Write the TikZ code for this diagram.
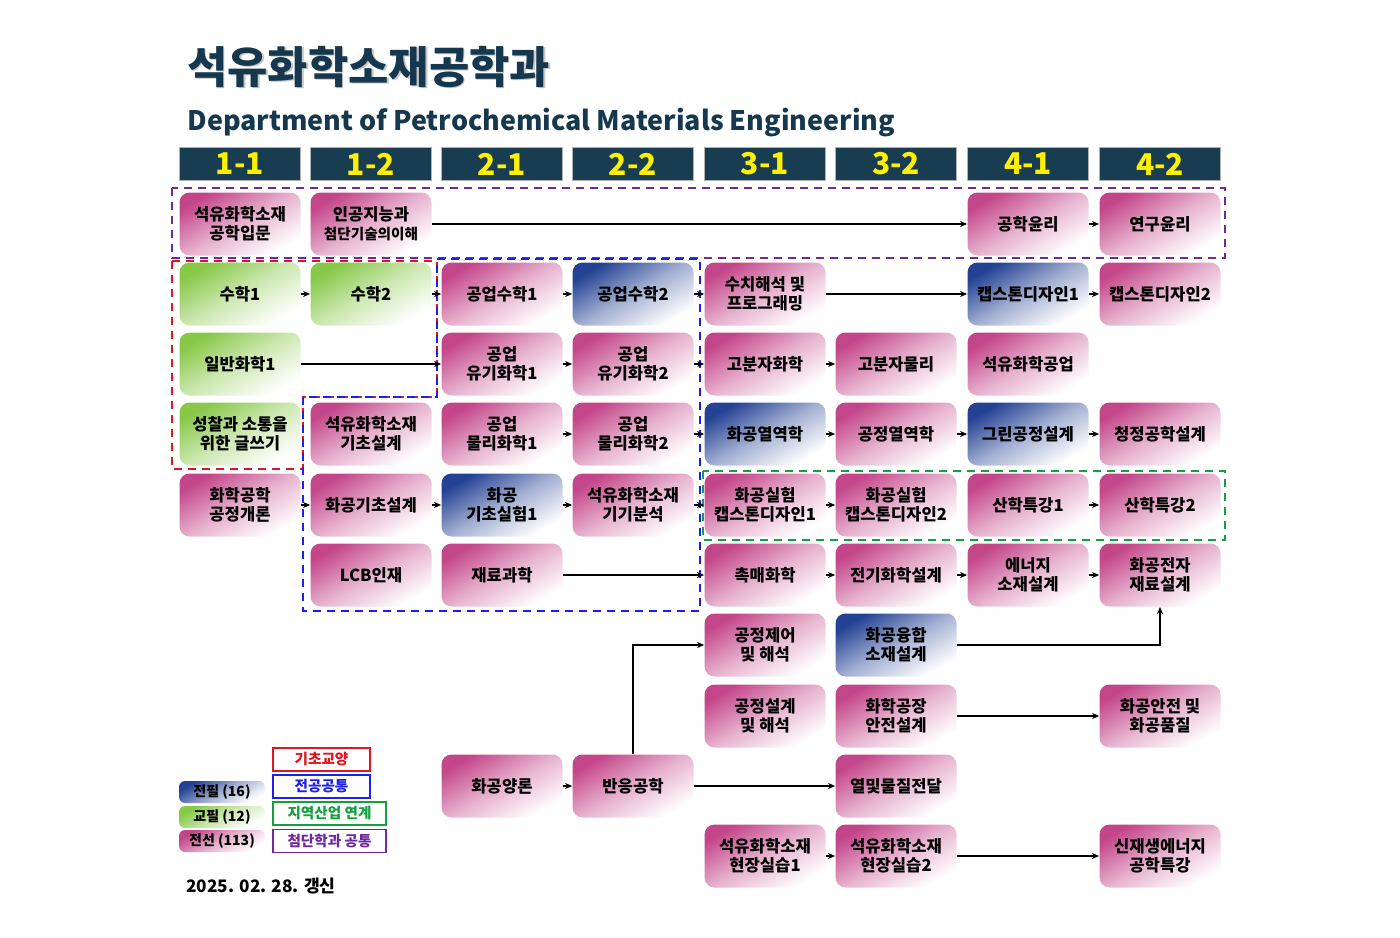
\documentclass[tikz,border=0pt]{standalone}
\usepackage{fontspec}
\setmainfont{Noto Sans CJK KR}
\usetikzlibrary{arrows.meta,positioning}

\definecolor{navy}{RGB}{22,56,78}
\definecolor{hdrfill}{RGB}{24,60,80}
\definecolor{hdrtext}{RGB}{255,240,0}
\definecolor{pinkc}{RGB}{196,70,138}
\definecolor{greenc}{RGB}{136,200,72}
\definecolor{bluec}{RGB}{36,66,148}
\definecolor{zonered}{RGB}{226,20,30}
\definecolor{zoneblue}{RGB}{30,30,240}
\definecolor{zonegreen}{RGB}{20,160,60}
\definecolor{zonepurple}{RGB}{112,40,160}

\tikzset{
  course/.style={rounded corners=5pt, minimum width=60.5pt, minimum height=31.5pt,
    inner sep=1pt, align=center, font=\bfseries\fontsize{8.3}{9.6}\selectfont},
  pinkbox/.style={course, top color=pinkc, bottom color=white, middle color=pinkc!42!white, shading angle=30},
  greenbox/.style={course, top color=greenc, bottom color=white, middle color=greenc!42!white, shading angle=30},
  bluebox/.style={course, top color=bluec, bottom color=white, middle color=bluec!42!white, shading angle=30},
  hdr/.style={fill=hdrfill, draw=gray!60, line width=0.4pt, minimum width=60.5pt,
    minimum height=16.5pt, inner sep=0pt, text=hdrtext, font=\bfseries\fontsize{15}{15}\selectfont},
  arr/.style={-{Stealth[length=3.5pt,width=3pt]}, line width=0.75pt},
  zone/.style={dash pattern=on 4pt off 3pt, line width=1pt},
  legbox/.style={minimum width=43pt, minimum height=11pt, rounded corners=3pt},
  keybox/.style={draw, line width=0.8pt, fill=white, minimum height=11.5pt, inner sep=0pt,
    font=\bfseries\fontsize{7.3}{8}\selectfont}
}

\begin{document}
\begin{tikzpicture}[x=0.5pt,y=-0.5pt]
    \useasboundingbox (0,0) rectangle (1400,937);

    % Title
    \node[anchor=west, text=gray!45, font=\bfseries\fontsize{21.9}{22}\selectfont, inner sep=0pt] at (188.5,68.5) {석유화학소재공학과};
    \node[anchor=west, text=navy, font=\bfseries\fontsize{21.9}{22}\selectfont, inner sep=0pt] (title) at (187,67) {석유화학소재공학과};
    \node[anchor=base west, text=navy, font=\bfseries\fontsize{13.45}{14}\selectfont, inner sep=0pt] (subtitle) at (187,130) {Department of Petrochemical Materials Engineering};

    % Semester headers
    \node[hdr] (s11) at (240,164) {1-1};
    \node[hdr] (s12) at (371,164) {1-2};
    \node[hdr] (s21) at (502,164) {2-1};
    \node[hdr] (s22) at (633,164) {2-2};
    \node[hdr] (s31) at (765,164) {3-1};
    \node[hdr] (s32) at (896,164) {3-2};
    \node[hdr] (s41) at (1028,164) {4-1};
    \node[hdr] (s42) at (1160,164) {4-2};

    % Zones
    \draw[zone, zonepurple] (172,188) rectangle (1225,258);
    \draw[zone, zonered] (172,261) -- (437,261) -- (437,397) -- (303,397) -- (303,469) -- (172,469) -- cycle;
    \draw[zone, zoneblue] (437,259) -- (700,259) -- (700,611) -- (303,611) -- (303,397) -- (437,397) -- cycle;
    \draw[zone, zonegreen] (703,471) rectangle (1225,540);

    % Courses
    \node[pinkbox] (intro) at (240,224) {석유화학소재\\공학입문};
    \node[pinkbox] (ai) at (371,224) {인공지능과\\{\fontsize{7.3}{9.6}\selectfont 첨단기술의이해}};
    \node[pinkbox] (ethics) at (1028,224) {공학윤리};
    \node[pinkbox] (resethics) at (1160,224) {연구윤리};

    \node[greenbox] (math1) at (240,294) {수학1};
    \node[greenbox] (math2) at (371,294) {수학2};
    \node[pinkbox] (emath1) at (502,294) {공업수학1};
    \node[bluebox] (emath2) at (633,294) {공업수학2};
    \node[pinkbox] (numer) at (765,294) {수치해석 및\\프로그래밍};
    \node[bluebox] (cap1) at (1028,294) {캡스톤디자인1};
    \node[pinkbox] (cap2) at (1160,294) {캡스톤디자인2};

    \node[greenbox] (chem1) at (240,364) {일반화학1};
    \node[pinkbox] (org1) at (502,364) {공업\\유기화학1};
    \node[pinkbox] (org2) at (633,364) {공업\\유기화학2};
    \node[pinkbox] (poly) at (765,364) {고분자화학};
    \node[pinkbox] (polyphys) at (896,364) {고분자물리};
    \node[pinkbox] (petind) at (1028,364) {석유화학공업};

    \node[greenbox] (writing) at (240,434) {성찰과 소통을\\위한 글쓰기};
    \node[pinkbox] (basedes) at (371,434) {석유화학소재\\기초설계};
    \node[pinkbox] (phys1) at (502,434) {공업\\물리화학1};
    \node[pinkbox] (phys2) at (633,434) {공업\\물리화학2};
    \node[bluebox] (thermo) at (765,434) {화공열역학};
    \node[pinkbox] (pthermo) at (896,434) {공정열역학};
    \node[bluebox] (greenproc) at (1028,434) {그린공정설계};
    \node[pinkbox] (clean) at (1160,434) {청정공학설계};

    \node[pinkbox] (ceintro) at (240,505) {화학공학\\공정개론};
    \node[pinkbox] (cebasic) at (371,505) {화공기초설계};
    \node[bluebox] (lab1) at (502,505) {화공\\기초실험1};
    \node[pinkbox] (instr) at (633,505) {석유화학소재\\기기분석};
    \node[pinkbox] (labcap1) at (765,505) {화공실험\\캡스톤디자인1};
    \node[pinkbox] (labcap2) at (896,505) {화공실험\\캡스톤디자인2};
    \node[pinkbox] (ind1) at (1028,505) {산학특강1};
    \node[pinkbox] (ind2) at (1160,505) {산학특강2};

    \node[pinkbox] (lcb) at (371,575) {LCB인재};
    \node[pinkbox] (matsci) at (502,575) {재료과학};
    \node[pinkbox] (catal) at (765,575) {촉매화학};
    \node[pinkbox] (elchem) at (896,575) {전기화학설계};
    \node[pinkbox] (energy) at (1028,575) {에너지\\소재설계};
    \node[pinkbox] (elecmat) at (1160,575) {화공전자\\재료설계};

    \node[pinkbox] (control) at (765,645) {공정제어\\및 해석};
    \node[bluebox] (fusion) at (896,645) {화공융합\\소재설계};

    \node[pinkbox] (procdes) at (765,716) {공정설계\\및 해석};
    \node[pinkbox] (plantsafe) at (896,716) {화학공장\\안전설계};
    \node[pinkbox] (quality) at (1160,716) {화공안전 및\\화공품질};

    \node[pinkbox] (stoich) at (502,786) {화공양론};
    \node[pinkbox] (react) at (633,786) {반응공학};
    \node[pinkbox] (heat) at (896,786) {열및물질전달};

    \node[pinkbox] (field1) at (765,856) {석유화학소재\\현장실습1};
    \node[pinkbox] (field2) at (896,856) {석유화학소재\\현장실습2};
    \node[pinkbox] (renew) at (1160,856) {신재생에너지\\공학특강};

    % Prerequisite arrows
    \draw[arr] (ai) -- (ethics);
    \draw[arr] (ethics) -- (resethics);
    \draw[arr] (math1) -- (math2);
    \draw[arr] (math2) -- (emath1);
    \draw[arr] (emath1) -- (emath2);
    \draw[arr] (emath2) -- (numer);
    \draw[arr] (numer) -- (cap1);
    \draw[arr] (cap1) -- (cap2);
    \draw[arr] (chem1) -- (org1);
    \draw[arr] (org1) -- (org2);
    \draw[arr] (org2) -- (poly);
    \draw[arr] (poly) -- (polyphys);
    \draw[arr] (phys1) -- (phys2);
    \draw[arr] (phys2) -- (thermo);
    \draw[arr] (thermo) -- (pthermo);
    \draw[arr] (pthermo) -- (greenproc);
    \draw[arr] (greenproc) -- (clean);
    \draw[arr] (ceintro) -- (cebasic);
    \draw[arr] (cebasic) -- (lab1);
    \draw[arr] (lab1) -- (instr);
    \draw[arr] (instr) -- (labcap1);
    \draw[arr] (labcap1) -- (labcap2);
    \draw[arr] (ind1) -- (ind2);
    \draw[arr] (matsci) -- (catal);
    \draw[arr] (catal) -- (elchem);
    \draw[arr] (elchem) -- (energy);
    \draw[arr] (energy) -- (elecmat);
    \draw[arr] (fusion.east) -| (elecmat.south);
    \draw[arr] (plantsafe) -- (quality);
    \draw[arr] (stoich) -- (react);
    \draw[arr] (react) -- (heat);
    \draw[arr] (react.north) |- (control.west);
    \draw[arr] (field1) -- (field2);
    \draw[arr] (field2) -- (renew);

    % Legend
    \node[bluebox, legbox, font=\bfseries\fontsize{7}{8}\selectfont] (lmajreq) at (222,792) {전필 (16)};
    \node[greenbox, legbox, font=\bfseries\fontsize{7}{8}\selectfont] (lgenreq) at (222,817) {교필 (12)};
    \node[pinkbox, legbox, font=\bfseries\fontsize{7}{8}\selectfont] (lmajsel) at (222,841) {전선 (113)};
    \node[keybox, draw=zonered, text=zonered, minimum width=48.5pt] (kbasic) at (321.5,759.5) {기초교양};
    \node[keybox, draw=zoneblue, text=zoneblue, minimum width=48.5pt] (kcommon) at (321.5,786.5) {전공공통};
    \node[keybox, draw=zonegreen, text=zonegreen, minimum width=56.5pt] (kregion) at (329.5,813.5) {지역산업 연계};
    \node[keybox, draw=zonepurple, text=zonepurple, minimum width=56.5pt] (kadv) at (329.5,841) {첨단학과 공통};

    % Date
    \node[anchor=base west, inner sep=0pt, font=\bfseries\fontsize{8.6}{9}\selectfont] (date) at (186,892) {2025. 02. 28. 갱신};
\end{tikzpicture}
\end{document}
